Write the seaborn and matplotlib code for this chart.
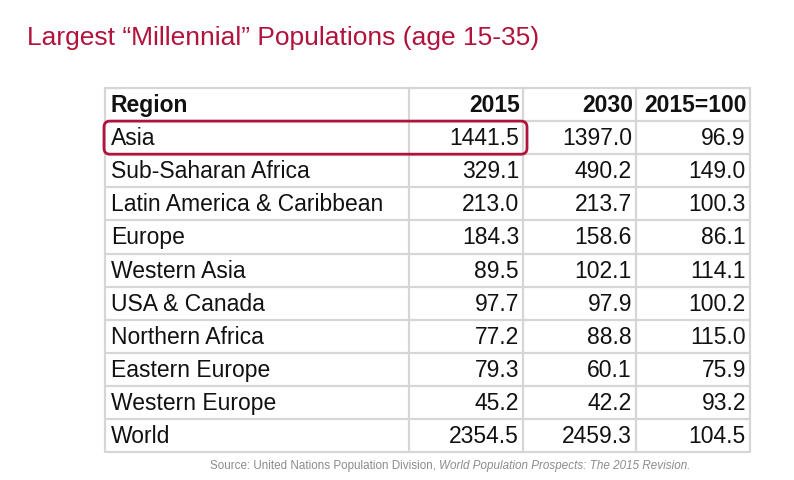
import matplotlib
matplotlib.use("Agg")
import matplotlib.pyplot as plt
import seaborn as sns
from matplotlib.patches import FancyBboxPatch

# table data
regions = ["Asia", "Sub-Saharan Africa", "Latin America & Caribbean", "Europe",
           "Western Asia", "USA & Canada", "Northern Africa", "Eastern Europe",
           "Western Europe", "World"]
pop_2015 = [1441.5, 329.1, 213.0, 184.3, 89.5, 97.7, 77.2, 79.3, 45.2, 2354.5]
pop_2030 = [1397.0, 490.2, 213.7, 158.6, 102.1, 97.9, 88.8, 60.1, 42.2, 2459.3]
index_2015 = [96.9, 149.0, 100.3, 86.1, 114.1, 100.2, 115.0, 75.9, 93.2, 104.5]
headers = ["Region", "2015", "2030", "2015=100"]
highlight = "Asia"

sns.set_style("white")
plt.rcParams["font.family"] = ["Liberation Sans", "DejaVu Sans"]

fig = plt.figure(figsize=(7.94, 4.81), dpi=100)
ax = fig.add_axes([0, 0, 1, 1])
ax.set_xlim(0, 794)
ax.set_ylim(481, 0)
ax.axis("off")

red = "#b1133c"
grid = "#d6d6d6"
ink = "#111111"

ax.text(27, 45, "Largest \u201cMillennial\u201d Populations (age 15-35)",
        color=red, fontsize=19, va="baseline", ha="left")

# layout
col_edges = [105, 409, 523, 636, 750]
top, row_h = 89, 33.1
n_rows = len(regions) + 1
bottom = top + n_rows * row_h

for i in range(n_rows + 1):
    ax.plot([col_edges[0], col_edges[-1]], [top + i * row_h] * 2, color=grid, lw=1.6)
for x in col_edges:
    ax.plot([x, x], [top, bottom], color=grid, lw=1.6)

def cell_y(r):
    return top + (r + 0.5) * row_h

fs = 16.5

# header
ax.text(col_edges[0] + 5, cell_y(0), headers[0], fontsize=fs, fontweight="bold",
        ha="left", va="center", color=ink)
for j, h in enumerate(headers[1:], start=1):
    ax.text(col_edges[j + 1] - 3, cell_y(0), h, fontsize=fs, fontweight="bold",
            ha="right", va="center", color=ink)

# rows
for r, name in enumerate(regions, start=1):
    y = cell_y(r)
    ax.text(col_edges[0] + 6, y, name, fontsize=fs, ha="left", va="center", color=ink)
    for j, vals in enumerate([pop_2015, pop_2030, index_2015], start=1):
        ax.text(col_edges[j + 1] - 4, y, f"{vals[r - 1]:.1f}", fontsize=fs,
                ha="right", va="center", color=ink)

# highlight box around the Asia row (region + 2015)
hr = regions.index(highlight) + 1
box = FancyBboxPatch((col_edges[0] - 1, top + hr * row_h), col_edges[2] + 5 - col_edges[0],
                     row_h, boxstyle="round,pad=0,rounding_size=6",
                     fill=False, edgecolor=red, lw=2.0, zorder=5)
ax.add_patch(box)

# source note
src_y = bottom + 13
t1 = ax.text(210, src_y, "Source: United Nations Population Division, ", fontsize=8.4,
             color="#8c8c8c", ha="left", va="center")
fig.canvas.draw()
bb = t1.get_window_extent()
x2 = ax.transData.inverted().transform((bb.x1, bb.y0))[0]
ax.text(x2, src_y, "World Population Prospects: The 2015 Revision.", fontsize=8.4,
        color="#8c8c8c", ha="left", va="center", style="italic")

fig.savefig("out.png", dpi=100)
